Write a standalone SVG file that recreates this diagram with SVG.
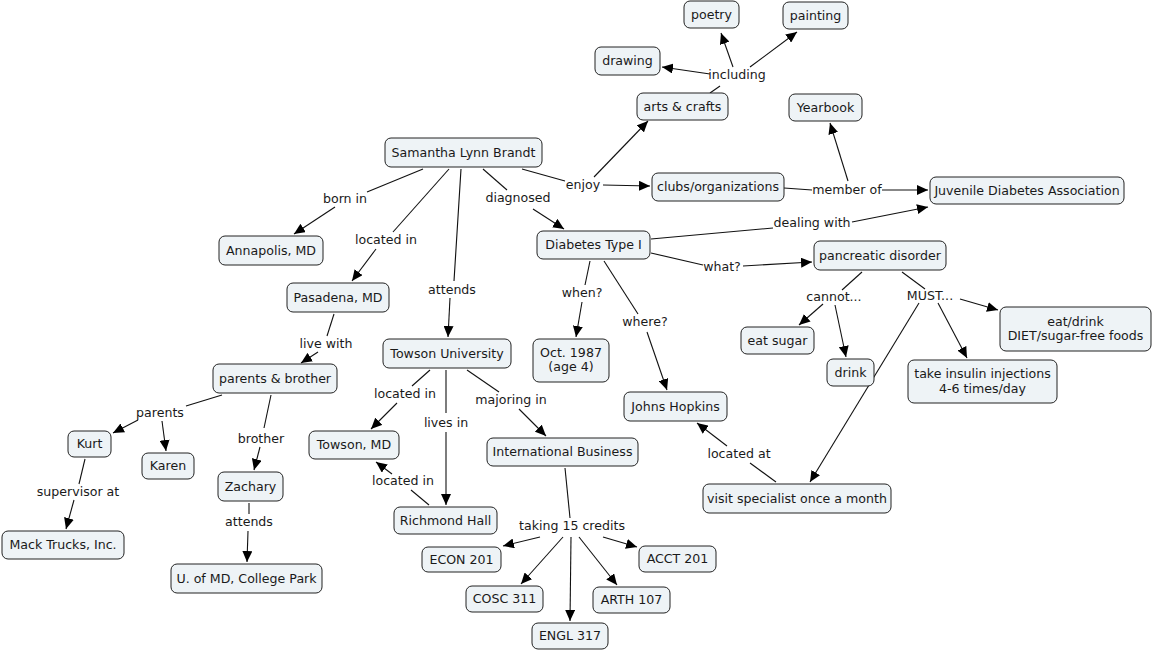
<svg xmlns="http://www.w3.org/2000/svg" width="1153" height="652" viewBox="0 0 1153 652">
<style>
.n rect{fill:#eef3f6;stroke:#222;stroke-width:1}
.n text,.l{font-family:"DejaVu Sans","Liberation Sans",sans-serif;font-size:12.6px;fill:#1a1a1a;text-anchor:middle}
#connectors line{stroke:#111;stroke-width:1.1}
#connectors line.a{marker-end:url(#ah)}
</style>
<defs>
<marker id="ah" markerUnits="userSpaceOnUse" markerWidth="12" markerHeight="10" refX="11" refY="5" orient="auto">
<path d="M0,0 L11,5 L0,10 z" fill="#000"/>
</marker>
</defs>
<rect width="1153" height="652" fill="#fff"/>
<g id="connectors">
<line x1="710" y1="93" x2="720" y2="86"/>
<line class="a" x1="710" y1="74" x2="662" y2="67"/>
<line class="a" x1="733" y1="67" x2="721" y2="33"/>
<line class="a" x1="750" y1="67" x2="797" y2="32"/>
<line x1="423" y1="169" x2="367" y2="192"/>
<line class="a" x1="335" y1="207" x2="294" y2="234"/>
<line x1="449" y1="169" x2="393" y2="232"/>
<line class="a" x1="376" y1="249" x2="352" y2="281"/>
<line x1="461" y1="169" x2="454" y2="281"/>
<line class="a" x1="450" y1="298" x2="448" y2="337"/>
<line x1="483" y1="169" x2="507" y2="190"/>
<line class="a" x1="533" y1="209" x2="564" y2="229"/>
<line x1="522" y1="169" x2="565" y2="181"/>
<line class="a" x1="603" y1="185" x2="650" y2="186"/>
<line class="a" x1="594" y1="177" x2="648" y2="121"/>
<line x1="784" y1="188" x2="812" y2="190"/>
<line class="a" x1="882" y1="190" x2="928" y2="190"/>
<line class="a" x1="848" y1="181" x2="830" y2="123"/>
<line x1="651" y1="239" x2="773" y2="228"/>
<line class="a" x1="852" y1="222" x2="928" y2="207"/>
<line x1="651" y1="253" x2="703" y2="265"/>
<line class="a" x1="743" y1="266" x2="812" y2="262"/>
<line x1="590" y1="261" x2="585" y2="285"/>
<line class="a" x1="582" y1="302" x2="576" y2="337"/>
<line x1="604" y1="261" x2="638" y2="314"/>
<line class="a" x1="647" y1="332" x2="667" y2="390"/>
<line x1="862" y1="272" x2="842" y2="290"/>
<line class="a" x1="823" y1="304" x2="799" y2="325"/>
<line class="a" x1="835" y1="305" x2="846" y2="357"/>
<line x1="902" y1="272" x2="925" y2="289"/>
<line class="a" x1="960" y1="299" x2="998" y2="310"/>
<line class="a" x1="938" y1="303" x2="967" y2="358"/>
<line class="a" x1="919" y1="303" x2="810" y2="482"/>
<line x1="776" y1="482" x2="750" y2="463"/>
<line class="a" x1="727" y1="446" x2="697" y2="423"/>
<line x1="334" y1="314" x2="327" y2="336"/>
<line class="a" x1="318" y1="352" x2="301" y2="363"/>
<line x1="222" y1="395" x2="186" y2="406"/>
<line class="a" x1="138" y1="420" x2="113" y2="433"/>
<line class="a" x1="162" y1="421" x2="166" y2="451"/>
<line x1="271" y1="395" x2="264" y2="428"/>
<line class="a" x1="260" y1="447" x2="254" y2="470"/>
<line x1="85" y1="459" x2="79" y2="484"/>
<line class="a" x1="74" y1="500" x2="66" y2="529"/>
<line x1="249" y1="503" x2="249" y2="514"/>
<line class="a" x1="248" y1="531" x2="247" y2="562"/>
<line x1="430" y1="370" x2="412" y2="386"/>
<line class="a" x1="397" y1="403" x2="371" y2="429"/>
<line x1="446" y1="370" x2="446" y2="413"/>
<line class="a" x1="446" y1="432" x2="446" y2="505"/>
<line x1="467" y1="370" x2="499" y2="392"/>
<line class="a" x1="519" y1="409" x2="546" y2="436"/>
<line x1="429" y1="505" x2="411" y2="490"/>
<line class="a" x1="392" y1="474" x2="376" y2="462"/>
<line x1="565" y1="468" x2="570" y2="518"/>
<line class="a" x1="540" y1="537" x2="503" y2="546"/>
<line class="a" x1="563" y1="537" x2="521" y2="584"/>
<line class="a" x1="571" y1="537" x2="570" y2="621"/>
<line class="a" x1="579" y1="537" x2="617" y2="585"/>
<line class="a" x1="603" y1="537" x2="637" y2="547"/>
<text class="l" x="737" y="79">including</text>
<text class="l" x="583" y="189">enjoy</text>
<text class="l" x="847" y="194">member of</text>
<text class="l" x="812" y="227">dealing with</text>
<text class="l" x="345" y="203">born in</text>
<text class="l" x="386" y="244">located in</text>
<text class="l" x="518" y="202">diagnosed</text>
<text class="l" x="722" y="271">what?</text>
<text class="l" x="582" y="297">when?</text>
<text class="l" x="645" y="326">where?</text>
<text class="l" x="452" y="294">attends</text>
<text class="l" x="326" y="348">live with</text>
<text class="l" x="405" y="398">located in</text>
<text class="l" x="446" y="427">lives in</text>
<text class="l" x="511" y="404">majoring in</text>
<text class="l" x="403" y="485">located in</text>
<text class="l" x="572" y="530">taking 15 credits</text>
<text class="l" x="834" y="301">cannot...</text>
<text class="l" x="930" y="300">MUST...</text>
<text class="l" x="739" y="458">located at</text>
<text class="l" x="160" y="417">parents</text>
<text class="l" x="261" y="443">brother</text>
<text class="l" x="78" y="496">supervisor at</text>
<text class="l" x="249" y="526">attends</text>
</g>
<g id="poetry" class="n"><rect x="684" y="1" width="55" height="27" rx="6"/><text x="711.5" y="18.5">poetry</text></g>
<g id="painting" class="n"><rect x="783" y="2" width="65" height="27" rx="6"/><text x="815.5" y="19.5">painting</text></g>
<g id="drawing" class="n"><rect x="595" y="47" width="65" height="28" rx="6"/><text x="627.5" y="65">drawing</text></g>
<g id="arts" class="n"><rect x="637" y="93" width="91" height="27" rx="6"/><text x="682.5" y="110.5">arts &amp; crafts</text></g>
<g id="yearbook" class="n"><rect x="789" y="94" width="73" height="27" rx="6"/><text x="825.5" y="111.5">Yearbook</text></g>
<g id="samantha" class="n"><rect x="385" y="138" width="157" height="29" rx="6"/><text x="463.5" y="156.5">Samantha Lynn Brandt</text></g>
<g id="clubs" class="n"><rect x="652" y="173" width="132" height="28" rx="6"/><text x="718" y="191">clubs/organizations</text></g>
<g id="jda" class="n"><rect x="930" y="177" width="194" height="27" rx="6"/><text x="1027" y="194.5">Juvenile Diabetes Association</text></g>
<g id="diabetes" class="n"><rect x="537" y="231" width="113" height="28" rx="6"/><text x="593.5" y="249">Diabetes Type I</text></g>
<g id="pancreatic" class="n"><rect x="814" y="241" width="132" height="29" rx="6"/><text x="880" y="259.5">pancreatic disorder</text></g>
<g id="annapolis" class="n"><rect x="219" y="236" width="104" height="29" rx="6"/><text x="271" y="254.5">Annapolis, MD</text></g>
<g id="pasadena" class="n"><rect x="287" y="283" width="102" height="29" rx="6"/><text x="338" y="301.5">Pasadena, MD</text></g>
<g id="parents" class="n"><rect x="213" y="364" width="124" height="29" rx="6"/><text x="275" y="382.5">parents &amp; brother</text></g>
<g id="towsonu" class="n"><rect x="383" y="339" width="128" height="29" rx="6"/><text x="447" y="357.5">Towson University</text></g>
<g id="oct" class="n"><rect x="533" y="339" width="76" height="43" rx="6"/><text x="571" y="357">Oct. 1987</text><text x="571" y="371">(age 4)</text></g>
<g id="johns" class="n"><rect x="624" y="392" width="103" height="29" rx="6"/><text x="675.5" y="410.5">Johns Hopkins</text></g>
<g id="eatsugar" class="n"><rect x="741" y="327" width="73" height="27" rx="6"/><text x="777.5" y="344.5">eat sugar</text></g>
<g id="drink" class="n"><rect x="827" y="359" width="47" height="27" rx="6"/><text x="850.5" y="376.5">drink</text></g>
<g id="insulin" class="n"><rect x="908" y="360" width="149" height="43" rx="6"/><text x="982.5" y="378">take insulin injections</text><text x="982.5" y="393">4-6 times/day</text></g>
<g id="eatdrink" class="n"><rect x="1000" y="307" width="151" height="44" rx="6"/><text x="1075.5" y="326">eat/drink</text><text x="1075.5" y="340">DIET/sugar-free foods</text></g>
<g id="visit" class="n"><rect x="703" y="484" width="188" height="29" rx="6"/><text x="797" y="502.5">visit specialist once a month</text></g>
<g id="intlbus" class="n"><rect x="487" y="438" width="151" height="28" rx="6"/><text x="562.5" y="456">International Business</text></g>
<g id="towsonmd" class="n"><rect x="309" y="431" width="90" height="28" rx="6"/><text x="354" y="449">Towson, MD</text></g>
<g id="richmond" class="n"><rect x="394" y="507" width="103" height="27" rx="6"/><text x="445.5" y="524.5">Richmond Hall</text></g>
<g id="econ" class="n"><rect x="422" y="547" width="79" height="25" rx="6"/><text x="461.5" y="563.5">ECON 201</text></g>
<g id="acct" class="n"><rect x="639" y="546" width="77" height="26" rx="6"/><text x="677.5" y="563">ACCT 201</text></g>
<g id="cosc" class="n"><rect x="466" y="586" width="77" height="26" rx="6"/><text x="504.5" y="603">COSC 311</text></g>
<g id="arth" class="n"><rect x="593" y="587" width="77" height="26" rx="6"/><text x="631.5" y="604">ARTH 107</text></g>
<g id="engl" class="n"><rect x="532" y="623" width="76" height="26" rx="6"/><text x="570" y="640">ENGL 317</text></g>
<g id="kurt" class="n"><rect x="68" y="431" width="43" height="26" rx="6"/><text x="89.5" y="448">Kurt</text></g>
<g id="karen" class="n"><rect x="142" y="453" width="52" height="26" rx="6"/><text x="168" y="470">Karen</text></g>
<g id="zachary" class="n"><rect x="218" y="472" width="65" height="29" rx="6"/><text x="250.5" y="490.5">Zachary</text></g>
<g id="mack" class="n"><rect x="2" y="531" width="122" height="28" rx="6"/><text x="63" y="549">Mack Trucks, Inc.</text></g>
<g id="umd" class="n"><rect x="171" y="564" width="151" height="29" rx="6"/><text x="246.5" y="582.5">U. of MD, College Park</text></g>
</svg>
